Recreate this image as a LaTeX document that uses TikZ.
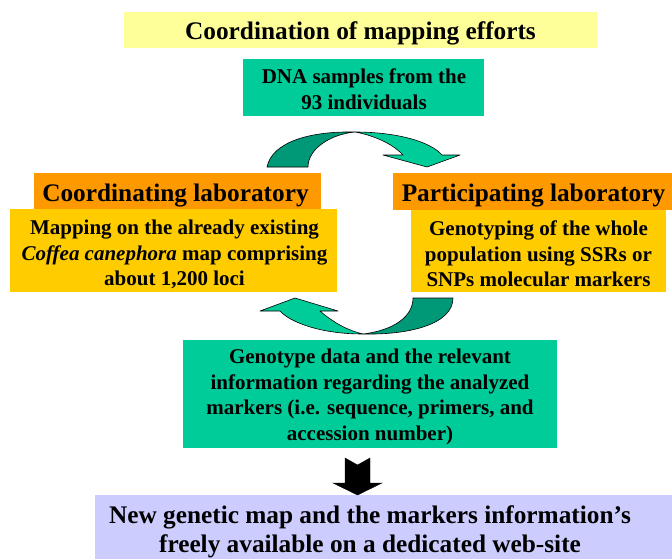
\documentclass[tikz,border=0pt]{standalone}
\usepackage{fontspec}
\setmainfont{Liberation Serif}
\usetikzlibrary{positioning}
\definecolor{paleyellow}{HTML}{FFFF99}
\definecolor{teal}{HTML}{00CC99}
\definecolor{darkteal}{HTML}{009977}
\definecolor{orange}{HTML}{FF9900}
\definecolor{gold}{HTML}{FFCC00}
\definecolor{lavender}{HTML}{CCCCFF}
\tikzset{
  box/.style={align=center, inner sep=0pt, text=black, font=\bfseries\fontsize{21}{25.5}\selectfont},
  headbox/.style={box, font=\bfseries\fontsize{25.3}{29}\selectfont},
  titlebox/.style={headbox, fill=paleyellow},
  labbox/.style={headbox, fill=orange},
  stepbox/.style={box, fill=gold},
  databox/.style={box, fill=teal},
  releasebox/.style={headbox, fill=lavender},
  ribbon/.style={draw=black, line width=0.6pt, line join=round},
  blockarrow/.style={fill=black, draw=black, line width=0.4pt, line join=miter}
}
% filled box #1 with style #2 at (#3,#4), size #5 x #6; its text #9 sits at offset (#7,#8)
\newcommand{\panelbox}[9]{%
  \node[#2, minimum width=#5pt, minimum height=#6pt] (#1) at (#3,#4) {};
  \node[#2, fill=none] (#1text) at ([shift={(#7,#8)}]#1.center) {#9};
}
\begin{document}
\begin{tikzpicture}[x=1pt,y=-1pt]
  \useasboundingbox (0,0) rectangle (672,558);
  \fill[white] (0,0) rectangle (672,558);

  % Top of the workflow.
  \panelbox{coord}{titlebox}{360.5}{30}{473}{36}{0}{3.5}{Coordination of mapping efforts}
  \panelbox{dna}{databox}{363.5}{87.5}{241}{57}{0.5}{1.5}{DNA samples from the\\93 individuals}

  % The two laboratories.
  \panelbox{coordlab}{labbox}{177.5}{191}{287}{36}{-2}{4.5}{Coordinating laboratory}
  \panelbox{mapping}{stepbox}{173.5}{250.5}{327}{83}{1}{4}%
    {Mapping on the already existing\\\textit{Coffea canephora} map comprising\\about 1,200 loci}
  \panelbox{partlab}{labbox}{532.5}{191.5}{279}{37}{1}{4}{Participating laboratory}
  \panelbox{genotyping}{stepbox}{538.5}{251}{255}{82}{0}{3}%
    {Genotyping of the whole\\population using SSRs or\\SNPs molecular markers}

  % Upper exchange arrow (samples go to the participating lab).
  \draw[ribbon, fill=darkteal] (267,167) .. controls (272,142) and (310,131) .. (355,132)
    .. controls (332,134) and (308,148) .. (308,167) -- cycle;
  \draw[ribbon, fill=teal] (355,132) .. controls (395,132) and (430,141) .. (442,155)
    -- (460,155) -- (427,167) -- (383,155) -- (403,155)
    .. controls (392,143) and (372,135) .. (355,132) -- cycle;

  % Lower exchange arrow (data come back to the coordinating lab).
  \draw[ribbon, fill=darkteal] (453,298) .. controls (453,324) and (410,335) .. (363,334)
    .. controls (395,330) and (413,316) .. (413,298) -- cycle;
  \draw[ribbon, fill=teal] (363,334) .. controls (320,334) and (290,322) .. (280,311)
    -- (260,311) -- (295,298) -- (338,311) -- (320,311)
    .. controls (335,324) and (350,331) .. (363,334) -- cycle;

  % Returned data and final release.
  \panelbox{genodata}{databox}{370}{394}{374}{108}{0}{3}%
    {Genotype data and the relevant\\information regarding the analyzed\\markers (i.e. sequence, primers, and\\accession number)}
  \panelbox{newmap}{releasebox}{383.5}{532.5}{577}{75}{-13.5}{-0.5}%
    {New genetic map and the markers information’s\\freely available on a dedicated web-site}

  \draw[blockarrow] (345,458) -- (357.5,465) -- (370,458) -- (370,483) -- (382,483)
    -- (357.5,495) -- (333,483) -- (345,483) -- cycle;
\end{tikzpicture}
\end{document}
